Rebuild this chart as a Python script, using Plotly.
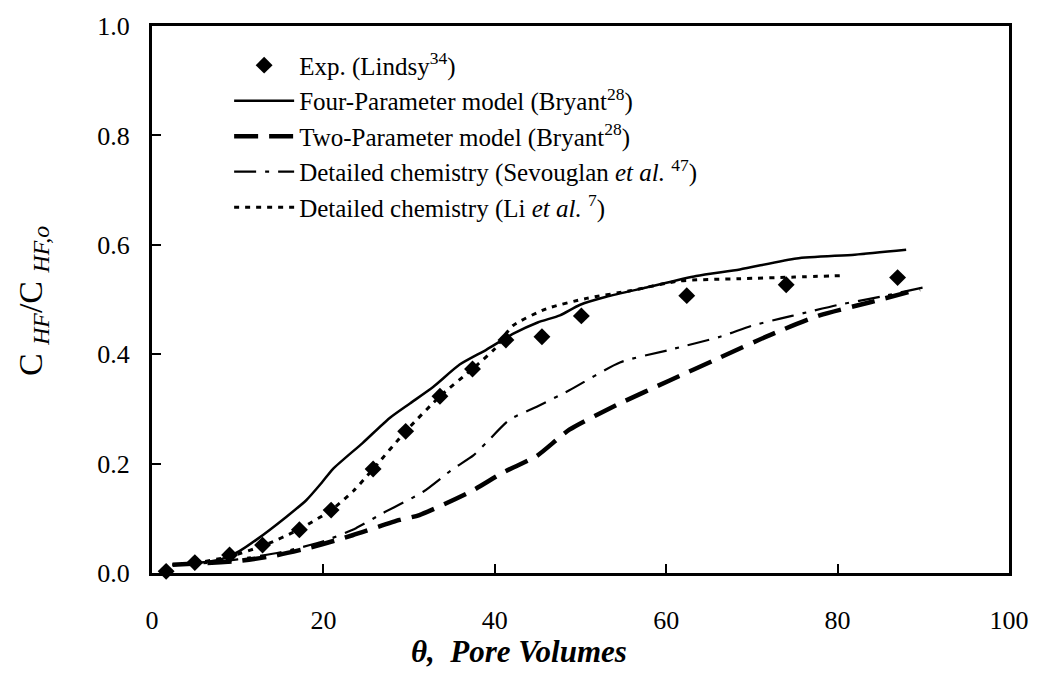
import plotly.graph_objects as go

# Experimental data (Lindsy)
exp_x = [1.65, 5.0, 9.05, 12.9, 17.2, 20.9, 25.8, 29.6, 33.6, 37.4, 41.3, 45.5, 50.1, 62.4, 74.0, 87.0]
exp_y = [0.003, 0.019, 0.033, 0.051, 0.079, 0.115, 0.19, 0.259, 0.323, 0.373, 0.426, 0.432, 0.47, 0.507, 0.527, 0.54]

# Four-Parameter model (Bryant)
four_x = [2.4, 5, 8, 10.2, 12.2, 15.7, 18.0, 19.8, 21.1, 24.6, 27.7, 30.1, 32.8, 35.9, 39.0, 42.1, 45, 47.6,
          49.9, 53, 57.7, 63.5, 68.6, 75.2, 82, 88.0]
four_y = [0.015, 0.018, 0.025, 0.04, 0.061, 0.103, 0.133, 0.165, 0.19, 0.238, 0.283, 0.31, 0.34, 0.381, 0.408,
          0.437, 0.458, 0.471, 0.49, 0.505, 0.522, 0.543, 0.555, 0.575, 0.582, 0.591]

# Two-Parameter model (Bryant)
two_x = [2.4, 6, 10, 14.1, 18.8, 23.4, 28.9, 31.2, 37.1, 41.0, 44.9, 48.7, 54.6, 60.4, 66.3, 72.1, 77.9, 83.8, 89.6]
two_y = [0.015, 0.018, 0.022, 0.031, 0.048, 0.069, 0.097, 0.106, 0.148, 0.184, 0.214, 0.262, 0.31, 0.352,
         0.394, 0.435, 0.471, 0.495, 0.519]

# Detailed chemistry (Sevouglan et al.)
sev_x = [2.4, 6, 10, 15, 20, 23.8, 27, 31.6, 35.1, 37.5, 39.0, 41.7, 44.9, 48.7, 54.6, 60.4, 66.3, 70, 73.3,
         76, 80, 85, 90]
sev_y = [0.015, 0.018, 0.025, 0.038, 0.058, 0.082, 0.11, 0.148, 0.19, 0.215, 0.238, 0.28, 0.304, 0.334, 0.385,
         0.408, 0.432, 0.452, 0.465, 0.475, 0.49, 0.505, 0.522]

# Detailed chemistry (Li et al.)
li_x = [2.4, 5, 9, 13, 17.2, 20.9, 23.5, 25.8, 29.6, 33.6, 37.4, 40, 42.1, 46.0, 50.7, 55.8, 61.6, 68.6, 75, 81]
li_y = [0.015, 0.018, 0.03, 0.05, 0.08, 0.115, 0.15, 0.19, 0.259, 0.323, 0.373, 0.41, 0.452, 0.483, 0.502,
        0.516, 0.534, 0.538, 0.541, 0.544]

x_ticks = [0, 20, 40, 60, 80, 100]
y_ticks = [0.0, 0.2, 0.4, 0.6, 0.8, 1.0]

FONT = "Liberation Serif"

fig = go.Figure()
fig.add_trace(go.Scatter(x=exp_x, y=exp_y, mode="markers", name="Exp. (Lindsy<sup>34</sup>)",
                         marker=dict(symbol="diamond", size=13, color="black"), cliponaxis=False))
fig.add_trace(go.Scatter(x=four_x, y=four_y, mode="lines", name="Four-Parameter model (Bryant<sup>28</sup>)",
                         line=dict(color="black", width=2.5, shape="spline", smoothing=0.6)))
fig.add_trace(go.Scatter(x=two_x, y=two_y, mode="lines", name="Two-Parameter model (Bryant<sup>28</sup>)",
                         line=dict(color="black", width=4.5, dash="24px,11px", shape="spline", smoothing=0.6)))
fig.add_trace(go.Scatter(x=sev_x, y=sev_y, mode="lines",
                         name="Detailed chemistry (Sevouglan <i>et al.</i> <sup>47</sup>)",
                         line=dict(color="black", width=2.2, dash="22px,9px,4px,9px", shape="spline", smoothing=0.6)))
fig.add_trace(go.Scatter(x=li_x, y=li_y, mode="lines",
                         name="Detailed chemistry (Li <i>et al.</i> <sup>7</sup>)",
                         line=dict(color="black", width=3, dash="5px,6px", shape="spline", smoothing=0.6)))

axis_common = dict(showline=True, linecolor="black", linewidth=3, mirror=True, ticks="inside",
                   ticklen=9, tickwidth=2, tickcolor="black", showgrid=False, zeroline=False,
                   tickfont=dict(family=FONT, size=26, color="black"))

fig.update_layout(
    width=1041, height=676,
    margin=dict(l=152, r=32, t=16, b=103, pad=0),
    paper_bgcolor="white", plot_bgcolor="white",
    font=dict(family=FONT, color="black"),
    xaxis=dict(range=[0, 100], tickvals=x_ticks, ticklabelstandoff=22, **axis_common),
    yaxis=dict(range=[0, 1], tickvals=y_ticks, tickformat=".1f", ticklabelstandoff=14, **axis_common),
    showlegend=True,
    legend=dict(x=0.09, y=0.97, xanchor="left", yanchor="top", bgcolor="rgba(0,0,0,0)",
                font=dict(family=FONT, size=25, color="black"), tracegroupgap=0, itemwidth=60),
    annotations=[
        dict(text="<b><i>θ,  Pore Volumes</i></b>", xref="paper", yref="paper", x=0.428, y=-0.143,
             xanchor="center", yanchor="middle", showarrow=False, font=dict(family=FONT, size=31)),
        dict(text="C <sub><i>HF</i></sub>/C <sub><i>HF,o</i></sub>", xref="paper", yref="paper",
             x=-0.139, y=0.497, xanchor="center", yanchor="middle", textangle=-90, showarrow=False,
             font=dict(family=FONT, size=34)),
    ],
)

fig.write_html("out.html")
